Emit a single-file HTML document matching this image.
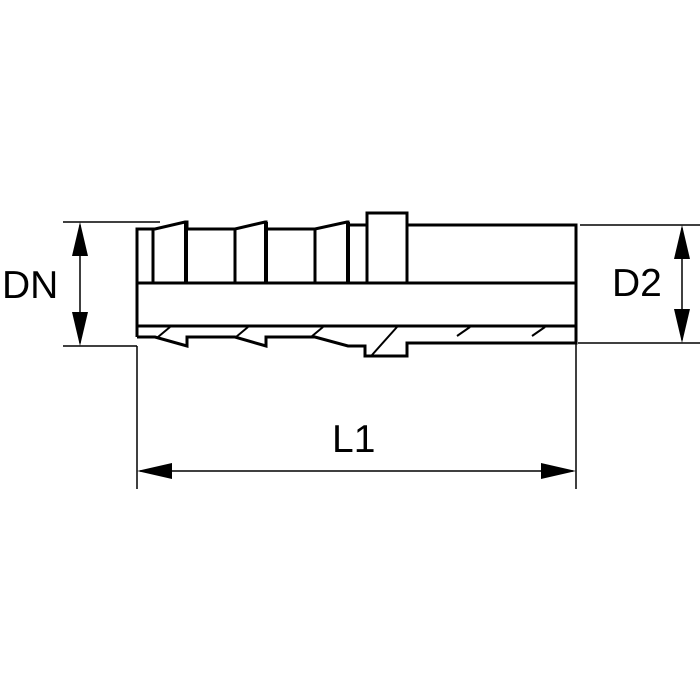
<!DOCTYPE html>
<html><head><style>html,body{margin:0;padding:0;background:#fff}svg{display:block}</style></head>
<body>
<svg width="700" height="700" viewBox="0 0 700 700" xmlns="http://www.w3.org/2000/svg">
<g fill="none" stroke="#000" stroke-width="3" stroke-linejoin="miter">
<!-- top outline -->
<polyline points="137,337 137,229 155,229 185,222 187,222 187,229 235,229 265,222 266,222 266,229 315,229 347,222 348,222 348,225 367,225 367,213 407,213 407,225 576,225 576,343 407,343 407,356 365,356 365,346 348,346 348,346 315,337 266,337 266,346 235,337 187,337 187,346 155,337 137,337"/>
<line x1="153" y1="229" x2="153" y2="283"/>
<line x1="155" y1="229" x2="155" y2="283" stroke-width="0"/>
<line x1="186" y1="222" x2="186" y2="283" stroke-width="4"/>
<line x1="235" y1="229" x2="235" y2="283"/>
<line x1="266" y1="222" x2="266" y2="283" stroke-width="4"/>
<line x1="315" y1="229" x2="315" y2="283"/>
<line x1="348" y1="222" x2="348" y2="283" stroke-width="4"/>
<line x1="367" y1="225" x2="367" y2="283"/>
<line x1="407" y1="225" x2="407" y2="283"/>
<line x1="137" y1="283" x2="576" y2="283"/>
<line x1="137" y1="326" x2="576" y2="326"/>
<line x1="266" y1="337" x2="266" y2="346"/>
<line x1="187" y1="337" x2="187" y2="346"/>
</g>
<g stroke="#000" stroke-width="2">
<line x1="158" y1="337" x2="170" y2="327"/>
<line x1="236" y1="337" x2="248" y2="327"/>
<line x1="311" y1="337" x2="323" y2="327"/>
<line x1="372" y1="355" x2="397" y2="327"/>
<line x1="457" y1="336" x2="470" y2="327"/>
<line x1="532" y1="336" x2="545" y2="327"/>
</g>
<g stroke="#000" stroke-width="1.5">
<line x1="63" y1="222" x2="160" y2="222"/>
<line x1="63" y1="346" x2="137" y2="346"/>
<line x1="80" y1="225" x2="80" y2="343"/>
<line x1="580" y1="225" x2="700" y2="225"/>
<line x1="578" y1="343" x2="700" y2="343"/>
<line x1="682" y1="228" x2="682" y2="340"/>
<line x1="137" y1="346" x2="137" y2="489"/>
<line x1="576" y1="343" x2="576" y2="489"/>
<line x1="140" y1="471" x2="573" y2="471"/>
</g>
<g fill="#000">
<polygon points="80,222 72,256 88,256"/>
<polygon points="80,346 72,312 88,312"/>
<polygon points="682,225 674,259 690,259"/>
<polygon points="682,343 674,309 690,309"/>
<polygon points="137,471 172,463 172,479"/>
<polygon points="576,471 541,463 541,479"/>
</g>
<g font-family="Liberation Sans, sans-serif" font-size="39" fill="#000">
<text x="2" y="298">DN</text>
<text x="612" y="296">D2</text>
<text x="332" y="452">L1</text>
</g>
</svg>
</body></html>
